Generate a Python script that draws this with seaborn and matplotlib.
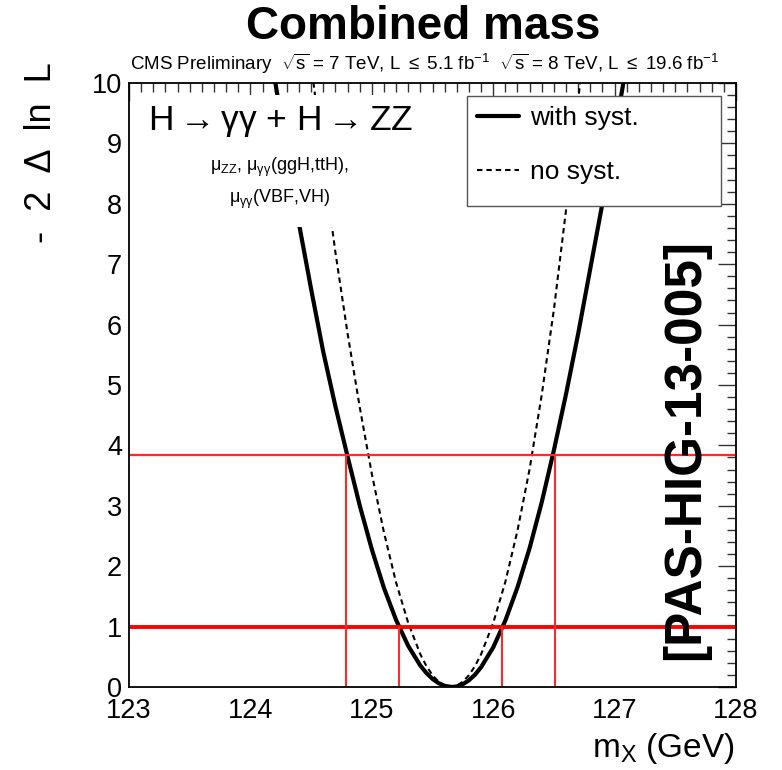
import matplotlib
matplotlib.use("Agg")
import numpy as np
import pandas as pd
import seaborn as sns
import matplotlib.pyplot as plt
from matplotlib.patches import Rectangle
from matplotlib.ticker import MultipleLocator
from matplotlib.lines import Line2D

# ---- data ----
mass_syst = [124.15, 124.20, 124.30, 124.40, 124.50, 124.60, 124.70, 124.80, 124.90, 125.00,
             125.10, 125.20, 125.30, 125.40, 125.45, 125.50, 125.55, 125.60, 125.66, 125.70,
             125.75, 125.80, 125.85, 125.90, 126.00, 126.10, 126.20, 126.30, 126.40, 126.50,
             126.60, 126.70, 126.80, 126.90, 127.00, 127.10]
nll_syst = [10.68, 10.07, 8.86, 7.67, 6.59, 5.55, 4.65, 3.82, 3.01, 2.28,
            1.64, 1.11, 0.68, 0.354, 0.231, 0.134, 0.064, 0.019, 0.0, 0.009,
            0.046, 0.111, 0.204, 0.327, 0.655, 1.10, 1.65, 2.30, 3.06, 3.92,
            4.85, 5.85, 6.93, 8.01, 9.15, 10.33]

mass_stat = [124.50, 124.60, 124.70, 124.80, 124.90, 125.00, 125.10, 125.20, 125.30, 125.40,
             125.45, 125.50, 125.55, 125.60, 125.65, 125.70, 125.75, 125.80, 125.85, 125.90,
             126.00, 126.10, 126.20, 126.30, 126.40, 126.50, 126.60, 126.70, 126.75]
nll_stat = [10.32, 8.70, 7.20, 5.86, 4.64, 3.53, 2.56, 1.73, 1.06, 0.54,
            0.346, 0.195, 0.087, 0.022, 0.0, 0.022, 0.087, 0.195, 0.346, 0.54,
            1.06, 1.74, 2.59, 3.61, 4.84, 6.25, 7.90, 9.71, 10.65]

cl_levels = [1.0, 3.84]
cross_68 = [125.222, 126.076]
cross_95 = [124.785, 126.505]

xtick_vals = [123, 124, 125, 126, 127, 128]
ytick_vals = [0, 1, 2, 3, 4, 5, 6, 7, 8, 9, 10]

labels = ["with syst.", "no syst."]

df = pd.concat([
    pd.DataFrame({"mass": mass_syst, "nll": nll_syst, "fit": labels[0]}),
    pd.DataFrame({"mass": mass_stat, "nll": nll_stat, "fit": labels[1]}),
])

# ---- style ----
sns.set_theme(style="white")
plt.rcParams["font.family"] = ["Liberation Sans", "DejaVu Sans"]
plt.rcParams["text.color"] = "black"
plt.rcParams["mathtext.fontset"] = "custom"
plt.rcParams["mathtext.rm"] = "Liberation Sans"
plt.rcParams["mathtext.it"] = "Liberation Sans"
plt.rcParams["mathtext.bf"] = "Liberation Sans:bold"

W, H = 782, 770
fig = plt.figure(figsize=(W / 100, H / 100), dpi=100)
fig.patch.set_facecolor("white")

def fx(px):
    return px / W

def fy(py):
    return 1 - py / H

ax = fig.add_axes([fx(129), fy(687), fx(736) - fx(129), fy(83) - fy(687)])
ax.set_facecolor("white")

sns.lineplot(data=df[df.fit == labels[0]], x="mass", y="nll", ax=ax, color="black",
             lw=3.0, estimator=None, sort=True, zorder=2, legend=False)
sns.lineplot(data=df[df.fit == labels[1]], x="mass", y="nll", ax=ax, color="black",
             lw=1.5, estimator=None, sort=True, zorder=2, legend=False)
ax.lines[1].set_dashes((2.6, 1.9))

# red CL lines
ax.axhline(cl_levels[0], color="#ff0000", lw=2.8, zorder=4)
ax.axhline(cl_levels[1], color="#ff2a2a", lw=1.6, zorder=4)
ax.vlines(cross_68, 0, cl_levels[0], color="#ff2a2a", lw=1.5, zorder=4)
ax.vlines(cross_95, 0, cl_levels[1], color="#ff2a2a", lw=1.5, zorder=4)

ax.set_xlim(xtick_vals[0], xtick_vals[-1])
ax.set_ylim(ytick_vals[0], ytick_vals[-1])
ax.set_xticks(xtick_vals)
ax.set_yticks(ytick_vals)
ax.set_xticklabels([str(v) for v in xtick_vals])
ax.set_yticklabels([str(v) for v in ytick_vals])
ax.xaxis.set_minor_locator(MultipleLocator(0.1))
ax.yaxis.set_minor_locator(MultipleLocator(0.2))
ax.tick_params(which="both", direction="in", top=True, right=True,
               color="#333333", width=1.0, labelsize=19.5, labelcolor="black")
ax.tick_params(which="major", length=13)
ax.tick_params(which="minor", length=6.5)
ax.tick_params(axis="x", which="major", pad=8)
ax.tick_params(axis="y", which="major", pad=5)
ax.set_xlabel("")
ax.set_ylabel("")
for s in ax.spines.values():
    s.set_color("black")
    s.set_linewidth(1.3)
    s.set_zorder(6)

# white box behind the upper-left text
ax.add_patch(Rectangle((123.05, 7.62), 2.35, 2.18, facecolor="white",
                       edgecolor="none", zorder=3))
ax.text(124.25, 9.36, r"H$\rightarrow$γγ + H$\rightarrow$ZZ",
        ha="center", va="center", fontsize=25.5, zorder=7)
ax.text(124.24, 8.60, r"$\mathregular{\mu_{ZZ}}$, $\mathregular{\mu_{\gamma\gamma}}$(ggH,ttH),",
        ha="center", va="center", fontsize=13, zorder=7)
ax.text(124.24, 8.07, r"$\mathregular{\mu_{\gamma\gamma}}$(VBF,VH)",
        ha="center", va="center", fontsize=13, zorder=7)

# legend box
ax.add_patch(Rectangle((125.784, 7.964), 2.093, 1.821, facecolor="white",
                       edgecolor="#555555", lw=1.0, zorder=3))
handles = [Line2D([], [], color="black", lw=3.0),
           Line2D([], [], color="black", lw=1.5, dashes=(2.6, 1.9))]
leg = ax.legend(handles, labels, loc="upper left", frameon=False,
                bbox_to_anchor=((477 - 129) / 607, (687 - 106) / 604),
                borderpad=0, borderaxespad=0, fontsize=19, handlelength=1.6,
                handletextpad=0.4, labelspacing=1.15)
leg.set_zorder(8)

# figure texts
fig.text(fx(423), fy(27), "Combined mass", ha="center", va="center",
         fontsize=33, fontweight="bold")
fig.text(fx(130), fy(64),
         r"CMS Preliminary  $\sqrt{\mathregular{s}}$ = 7 TeV, L $\leq$ 5.1 fb$^{-1}$"
         r"  $\sqrt{\mathregular{s}}$ = 8 TeV, L $\leq$ 19.6 fb$^{-1}$",
         ha="left", va="center", fontsize=13.5)
fig.text(fx(42), fy(62), "-  2  Δ  ln  L", rotation=90, ha="center", va="top",
         fontsize=26)
fig.text(fx(735), fy(748), r"m$_{\mathregular{X}}$ (GeV)", ha="right", va="center",
         fontsize=24)
fig.text(fx(686), fy(450), "[PAS-HIG-13-005]", rotation=90, ha="center", va="center",
         fontsize=37, fontweight="bold", zorder=10)

fig.savefig("out.png", dpi=100, facecolor="white")
